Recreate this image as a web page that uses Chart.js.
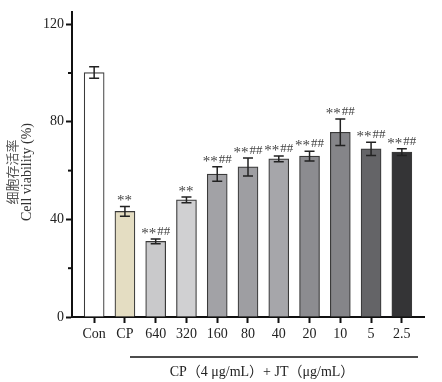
<!DOCTYPE html>
<html><head><meta charset="utf-8">
<script src="https://cdn.jsdelivr.net/npm/chart.js@4"></script>
<style>html,body{margin:0;padding:0;background:#fff}canvas{display:block}</style>
</head><body>
<canvas id="c" width="442" height="382" style="width:442px;height:382px"></canvas>
<script>
const categories = ['Con','CP','640','320','160','80','40','20','10','5','2.5'];
const viability = [100.2, 43.3, 31.0, 48.0, 58.6, 61.5, 64.8, 65.9, 75.7, 68.9, 67.6];
const errors = [2.4, 2.0, 1.0, 1.2, 3.0, 3.7, 1.2, 2.0, 5.4, 2.7, 1.4];
const starMarks = ['', '**', '**', '**', '**', '**', '**', '**', '**', '**', '**'];
const hashMarks = ['', '', '##', '', '##', '##', '##', '##', '##', '##', '##'];
const barColors = ['#ffffff','#e4ddc2','#c9c9cb','#d0d0d2','#a2a2a6','#9e9ea2','#a6a6aa','#8c8c90','#858589','#646467','#343436'];
const yTickValues = [0, 20, 40, 60, 80, 100, 120];
const yLabelValues = [0, 40, 80, 120];
const yTitleCN = '细胞存活率';
const yTitleEN = 'Cell viability (%)';
const xTitle = 'CP（4 μg/mL）+ JT（μg/mL）';

const SERIF = "'Liberation Serif', 'Times New Roman', serif";

const extras = {
  id: 'extras',
  afterDatasetsDraw(chart) {
    const ctx = chart.ctx, xs = chart.scales.x, ys = chart.scales.y;
    ctx.save();
    ctx.strokeStyle = '#222'; ctx.lineWidth = 1.5;
    viability.forEach((v, i) => {
      const x = xs.getPixelForValue(i);
      const yt = ys.getPixelForValue(v + errors[i]);
      const yb = ys.getPixelForValue(v - errors[i]);
      ctx.beginPath();
      ctx.moveTo(x, yt); ctx.lineTo(x, yb);
      ctx.moveTo(x - 5, yt); ctx.lineTo(x + 5, yt);
      ctx.moveTo(x - 5, yb); ctx.lineTo(x + 5, yb);
      ctx.stroke();
      const s = starMarks[i], h = hashMarks[i];
      if (s || h) {
        ctx.fillStyle = '#444';
        ctx.textBaseline = 'alphabetic'; ctx.textAlign = 'left';
        ctx.font = '15px ' + SERIF;
        const ws = ctx.measureText(s).width + 1;
        ctx.font = '13px ' + SERIF;
        const wh = ctx.measureText(h).width;
        const x0 = x - (ws + wh) / 2;
        const base = yt - 4;
        ctx.font = '15px ' + SERIF;
        ctx.fillText(s, x0, base + 3);
        ctx.font = '13px ' + SERIF;
        ctx.fillText(h, x0 + ws, base);
      }
    });
    ctx.restore();
  },
  afterDraw(chart) {
    const ctx = chart.ctx, ys = chart.scales.y, xs = chart.scales.x;
    ctx.save();
    ctx.strokeStyle = '#111'; ctx.lineWidth = 2;
    yTickValues.filter(v => !yLabelValues.includes(v)).forEach(v => {
      const y = ys.getPixelForValue(v);
      ctx.beginPath(); ctx.moveTo(xs.left - 4, y); ctx.lineTo(xs.left, y); ctx.stroke();
    });
    ctx.lineWidth = 1.5; ctx.strokeStyle = '#111';
    ctx.beginPath(); ctx.moveTo(130, 357); ctx.lineTo(418, 357); ctx.stroke();
    ctx.fillStyle = '#222';
    ctx.font = "14px " + SERIF + ", 'Noto Sans CJK SC'";
    ctx.textAlign = 'center'; ctx.textBaseline = 'middle';
    ctx.fillText(xTitle, 262, 372);
    ctx.translate(0, 172);
    ctx.rotate(-Math.PI / 2);
    ctx.fillStyle = '#555';
    ctx.font = "13px 'Noto Sans CJK SC'";
    ctx.fillText(yTitleCN, 0, 12);
    ctx.fillStyle = '#333';
    ctx.font = "14px " + SERIF;
    ctx.fillText(yTitleEN, 0, 27);
    ctx.restore();
  }
};

new Chart(document.getElementById('c'), {
  type: 'bar',
  data: {
    datasets: [{
      data: viability.map((v, i) => ({x: i, y: v})),
      backgroundColor: barColors,
      borderColor: '#3a3a3a',
      borderWidth: 1.2,
      barThickness: 20
    }]
  },
  options: {
    responsive: false,
    animation: false,
    devicePixelRatio: 1,
    layout: {padding: {top: 12, right: 18, left: 0, bottom: 0}},
    plugins: {legend: {display: false}, tooltip: {enabled: false}},
    scales: {
      x: {
        type: 'linear', min: -0.72, max: 10.72, offset: false,
        afterBuildTicks: s => { s.ticks = categories.map((_, i) => ({value: i})); },
        afterFit: s => { s.height = 65; },
        grid: {drawOnChartArea: false, offset: false, tickLength: 6, tickWidth: 2, tickColor: '#111'},
        border: {color: '#111', width: 2},
        ticks: {
          callback: v => categories[v],
          font: {family: SERIF, size: 14}, color: '#222', padding: 3,
          maxRotation: 0, autoSkip: false
        }
      },
      y: {
        min: 0, max: 125,
        afterBuildTicks: s => { s.ticks = yTickValues.map(v => ({value: v})); },
        afterFit: s => { s.width = 72; },
        grid: {drawOnChartArea: false, tickLength: 6, tickWidth: 2,
               tickColor: c => yLabelValues.includes(c.tick.value) ? '#111' : 'rgba(0,0,0,0)'},
        border: {color: '#111', width: 2},
        ticks: {
          callback: v => yLabelValues.includes(v) ? String(v) : '',
          font: {family: SERIF, size: 14}, color: '#222', padding: 2
        }
      }
    }
  },
  plugins: [extras]
});
</script>
</body></html>
